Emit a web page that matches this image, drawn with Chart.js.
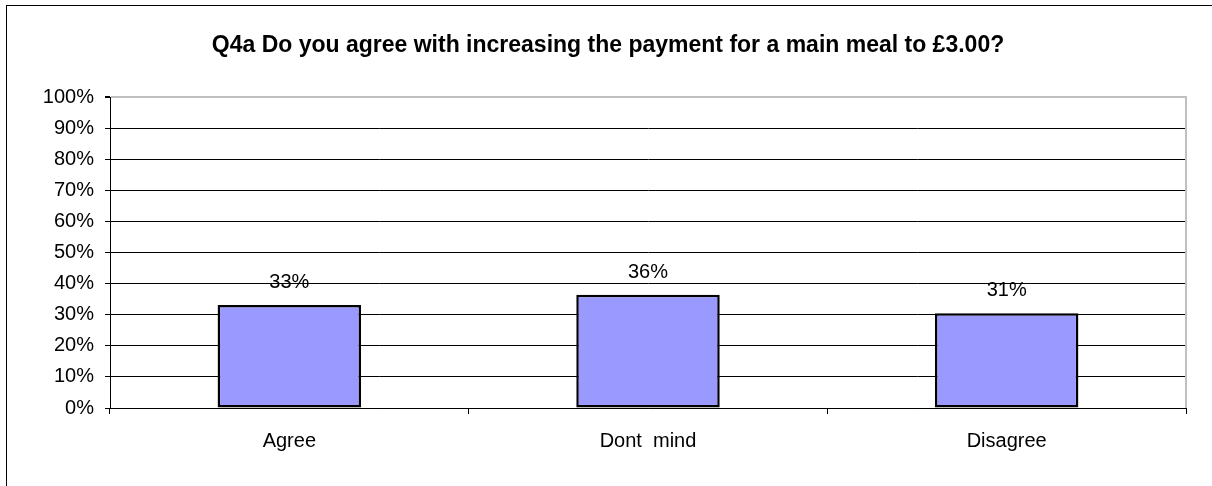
<!DOCTYPE html>
<html>
<head>
<meta charset="utf-8">
<script src="https://cdn.jsdelivr.net/npm/chart.js@4"></script>
<style>
  body { margin: 0; background: #fff; }
  #wrap { position: relative; width: 1212px; height: 486px; }
</style>
</head>
<body>
<div id="wrap"><canvas id="myChart"></canvas></div>
<script>
// survey answers
const answers = ['Agree', 'Dont  mind', 'Disagree'];
const shares = [33.1, 36.4, 30.5];
const chartTitle = 'Q4a Do you agree with increasing the payment for a main meal to £3.00?';

const fontFamily = '"Liberation Sans", Arial, sans-serif';

// outer frame of the whole chart (only top and left show in the picture) + title
const outerFrame = {
    id: 'outerFrame',
    beforeDraw(chart) {
        const c = chart.ctx;
        c.save();
        c.fillStyle = '#fff';
        c.fillRect(0, 0, chart.width, chart.height);
        c.strokeStyle = '#000';
        c.lineWidth = 1;
        c.strokeRect(6.5, 5.5, chart.width + 50, chart.height + 50);
        c.fillStyle = '#000';
        c.font = 'bold 23px ' + fontFamily;
        c.textAlign = 'center';
        c.textBaseline = 'alphabetic';
        c.fillText(chartTitle, 608, 52);
        c.restore();
    }
};

// grey right edge of the plot area
const plotEdge = {
    id: 'plotEdge',
    beforeDatasetsDraw(chart) {
        const a = chart.chartArea;
        const c = chart.ctx;
        c.save();
        c.strokeStyle = '#c0c0c0';
        c.lineWidth = 2;
        c.beginPath();
        c.moveTo(a.right, a.top - 1);
        c.lineTo(a.right, a.bottom);
        c.stroke();
        c.restore();
    }
};

// percentage labels above the bars
const barLabels = {
    id: 'barLabels',
    afterDatasetsDraw(chart) {
        const c = chart.ctx;
        const meta = chart.getDatasetMeta(0);
        c.save();
        c.fillStyle = '#000';
        c.font = '20px ' + fontFamily;
        c.textAlign = 'center';
        c.textBaseline = 'alphabetic';
        meta.data.forEach((bar, i) => {
            c.fillText(Math.round(shares[i]) + '%', bar.x, bar.y - 17);
        });
        c.restore();
    }
};

const ctx = document.getElementById('myChart').getContext('2d');

const myChart = new Chart(ctx, {
    type: 'bar',
    data: {
        labels: answers,
        datasets: [{
            data: shares,
            backgroundColor: '#9999ff',
            borderColor: '#000',
            borderWidth: 2.5,
            borderSkipped: false,
            categoryPercentage: 1,
            barPercentage: 0.4
        }]
    },
    options: {
        responsive: true,
        maintainAspectRatio: false,
        animation: false,
        layout: { padding: { top: 97, right: 26, bottom: 0, left: 0 } },
        plugins: {
            legend: { display: false },
            tooltip: { enabled: false },
            title: { display: false }
        },
        scales: {
            x: {
                afterFit(scale) { scale.height = 78; },
                grid: {
                    drawOnChartArea: false,
                    drawTicks: true,
                    tickLength: 6,
                    tickColor: '#000'
                },
                border: { color: '#000', width: 1 },
                ticks: {
                    color: '#000',
                    padding: 15,
                    font: { family: fontFamily, size: 20 }
                }
            },
            y: {
                min: 0,
                max: 100,
                afterFit(scale) { scale.width = 110; },
                grid: {
                    color: (c) => c.tick && c.tick.value === 100 ? '#c0c0c0' : '#000',
                    lineWidth: (c) => c.tick && c.tick.value === 100 ? 2 : 1,
                    tickColor: '#000',
                    tickLength: 5
                },
                border: { color: '#000', width: 1 },
                ticks: {
                    stepSize: 10,
                    color: '#000',
                    padding: 11,
                    font: { family: fontFamily, size: 20 },
                    callback: (v) => v + '%'
                }
            }
        }
    },
    plugins: [outerFrame, plotEdge, barLabels]
});
</script>
</body>
</html>
